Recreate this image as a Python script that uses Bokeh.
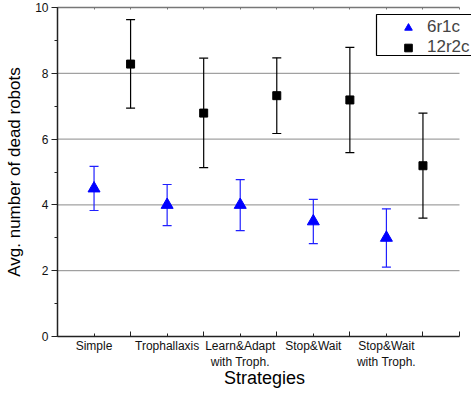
from bokeh.plotting import figure
from bokeh.models import (ColumnDataSource, Range1d, FixedTicker, LinearAxis, Whisker,
                          TeeHead, Legend, LegendItem, BoxAnnotation, SingleIntervalTicker)
from bokeh.embed import file_html
from bokeh.resources import INLINE

strategies = ["Simple", "Trophallaxis", "Learn&Adapt\nwith Troph.", "Stop&Wait", "Stop&Wait\nwith Troph."]
six_mean = [4.5, 4.0, 4.0, 3.5, 3.0]
six_lo = [3.83, 3.37, 3.22, 2.82, 2.11]
six_hi = [5.17, 4.62, 4.77, 4.17, 3.88]
twelve_mean = [8.28, 6.79, 7.32, 7.19, 5.19]
twelve_lo = [6.94, 5.13, 6.17, 5.59, 3.60]
twelve_hi = [9.63, 8.46, 8.47, 8.79, 6.79]
series_names = ["6r1c", "12r2c"]

FONT = "Liberation Sans"
n = len(strategies)
x6 = [2 * i + 1 for i in range(n)]
x12 = [2 * i + 2 for i in range(n)]
xmax = 2 * n + 1
ymax = 10
ystep = 2

src6 = ColumnDataSource(dict(x=x6, y=six_mean, lo=six_lo, hi=six_hi))
src12 = ColumnDataSource(dict(x=x12, y=twelve_mean, lo=twelve_lo, hi=twelve_hi))

# frame spans 57..471 px; axes drawn only up to xmax (459 px)
p = figure(width=471, height=396, output_backend="svg", toolbar_location=None,
           x_range=Range1d(0, xmax * 414 / 402), y_range=Range1d(0, ymax),
           min_border_left=57, min_border_right=0, min_border_top=7, min_border_bottom=60,
           x_axis_type=None, y_axis_type=None)
p.outline_line_color = None
p.background_fill_color = "white"
p.border_fill_color = "white"

# horizontal grid lines limited to the x extent of the axes
grid_y = list(range(ystep, ymax, ystep))
p.segment(x0=[0] * len(grid_y), x1=[xmax] * len(grid_y), y0=grid_y, y1=grid_y,
          line_color="#8a8a8a", line_width=1, level="underlay")

# x axis
xt = FixedTicker(ticks=x6, minor_ticks=[0] + x12 + [xmax])
xaxis = LinearAxis(ticker=xt, axis_label="Strategies", bounds=(0, xmax))
xaxis.major_label_overrides = {x: s for x, s in zip(x6, strategies)}
xaxis.major_tick_in = 3
xaxis.major_tick_out = 0
xaxis.minor_tick_in = 5
xaxis.minor_tick_out = 0
xaxis.axis_line_width = 1.5
xaxis.axis_line_color = "#222222"
xaxis.major_tick_line_color = "#222222"
xaxis.minor_tick_line_color = "#222222"
xaxis.major_label_text_font = FONT
xaxis.major_label_text_font_size = "12px"
xaxis.major_label_text_color = "#111111"
xaxis.major_label_standoff = 2
xaxis.axis_label_text_font = FONT
xaxis.axis_label_text_font_size = "18px"
xaxis.axis_label_text_font_style = "normal"
xaxis.axis_label_text_color = "black"
xaxis.axis_label_standoff = -4
p.add_layout(xaxis, "below")

# top axis line
taxis = LinearAxis(ticker=xt, bounds=(0, xmax))
taxis.major_label_text_font_size = "0px"
taxis.major_label_standoff = 0
taxis.major_tick_in = 2
taxis.major_tick_out = 0
taxis.minor_tick_in = 2
taxis.minor_tick_out = 0
taxis.axis_line_color = "#777777"
taxis.axis_line_width = 1.5
taxis.major_tick_line_color = "#777777"
taxis.minor_tick_line_color = "#777777"
p.add_layout(taxis, "above")

# y axis
yt = SingleIntervalTicker(interval=ystep, num_minor_ticks=2)
yaxis = LinearAxis(ticker=yt, axis_label="Avg. number of dead robots")
yaxis.major_tick_out = 6
yaxis.major_tick_in = 0
yaxis.minor_tick_out = 3
yaxis.minor_tick_in = 0
yaxis.axis_line_width = 1.5
yaxis.axis_line_color = "#222222"
yaxis.major_tick_line_color = "#222222"
yaxis.minor_tick_line_color = "#222222"
yaxis.major_label_text_font = FONT
yaxis.major_label_text_font_size = "12px"
yaxis.major_label_text_color = "#111111"
yaxis.major_label_standoff = 3
yaxis.axis_label_text_font = FONT
yaxis.axis_label_text_font_size = "17px"
yaxis.axis_label_text_font_style = "normal"
yaxis.axis_label_text_color = "black"
yaxis.axis_label_standoff = 8
p.add_layout(yaxis, "left")

# error bars
w6 = Whisker(source=src6, base="x", upper="hi", lower="lo", dimension="height",
             line_color="#2020ff", line_width=1.2,
             upper_head=TeeHead(size=9, line_color="#2020ff", line_width=1.2),
             lower_head=TeeHead(size=9, line_color="#2020ff", line_width=1.2))
w12 = Whisker(source=src12, base="x", upper="hi", lower="lo", dimension="height",
              line_color="black", line_width=1.2,
              upper_head=TeeHead(size=9, line_color="black", line_width=1.2),
              lower_head=TeeHead(size=9, line_color="black", line_width=1.2))
p.add_layout(w6)
p.add_layout(w12)

r6 = p.scatter("x", "y", source=src6, marker="triangle", size=12, color="#0000ff")
r12 = p.scatter("x", "y", source=src12, marker="square", size=8, color="black")

legend = Legend(items=[LegendItem(label=series_names[0], renderers=[r6]),
                       LegendItem(label=series_names[1], renderers=[r12])],
                location=(337, 277), padding=2, spacing=0,
                glyph_width=24, glyph_height=19, label_height=19, label_standoff=7,
                border_line_alpha=0, background_fill_alpha=0,
                label_text_font=FONT, label_text_font_size="17px", margin=0)
p.add_layout(legend, "center")

box = BoxAnnotation(left=376, right=490, top=14, bottom=55,
                    left_units="canvas", right_units="canvas",
                    top_units="canvas", bottom_units="canvas",
                    fill_alpha=0, line_color="black", line_alpha=1, line_width=1.2, level="overlay")
p.add_layout(box)

open("out.html", "w").write(file_html(p, INLINE))
